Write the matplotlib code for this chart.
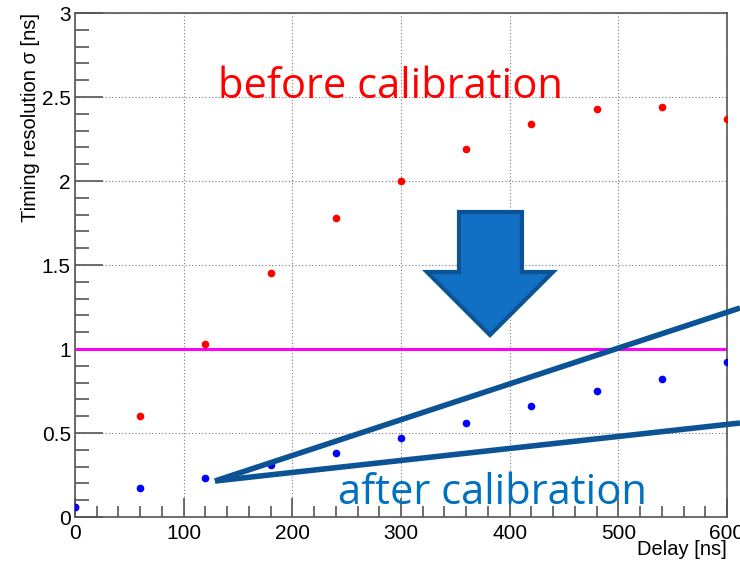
# -*- coding: utf-8 -*-
# timing resolution vs delay, before / after calibration
import numpy as np
import matplotlib
matplotlib.use('Agg')
from matplotlib import pyplot as plt
from matplotlib.patches import Polygon
from matplotlib.ticker import MultipleLocator, FormatStrFormatter

delay = [0, 60, 120, 180, 240, 300, 360, 420, 480, 540, 600]
before = [0.06, 0.60, 1.03, 1.45, 1.78, 2.00, 2.19, 2.34, 2.43, 2.44, 2.37]
after = [0.06, 0.17, 0.23, 0.31, 0.38, 0.47, 0.56, 0.66, 0.75, 0.82, 0.92]
limit = 1.0

plt.rcParams['font.family'] = ['Liberation Sans', 'DejaVu Sans']

fig = plt.figure(figsize=(7.4, 5.64), dpi=100)
ax = fig.add_axes([0.1014, 0.0833, 0.881, 0.8936])

ax.plot(delay, before, 'o', color='red', ms=4.5, zorder=3)
ax.plot(delay, after, 'o', color='blue', ms=4.5, zorder=3)
ax.plot([0, 600], [limit, limit], color='#ff00ff', lw=2.2, zorder=2)

ax.set_xlim(0, 600)
ax.set_ylim(0, 3)
ax.xaxis.set_major_locator(MultipleLocator(100))
ax.xaxis.set_minor_locator(MultipleLocator(20))
ax.yaxis.set_major_locator(MultipleLocator(0.5))
ax.yaxis.set_minor_locator(MultipleLocator(0.1))
ax.xaxis.set_major_formatter(FormatStrFormatter('%g'))
ax.yaxis.set_major_formatter(FormatStrFormatter('%g'))
ax.tick_params(which='both', direction='in', top=False, right=False,
               color='#555555', width=1.2, labelsize=15)
ax.tick_params(axis='x', which='major', length=14, pad=5)
ax.tick_params(axis='x', which='minor', length=8)
ax.tick_params(axis='y', which='major', length=20, pad=3)
ax.tick_params(axis='y', which='minor', length=10)
ax.grid(True, which='major', ls=(0, (1, 2)), color='#777777', lw=0.8)
for s in ax.spines.values():
    s.set_color('#555555')
    s.set_linewidth(1.2)

ax.set_xlabel('Delay [ns]', fontsize=14.5, ha='right')
ax.xaxis.set_label_coords(1.0, -0.046)
ax.set_ylabel('Timing resolution σ [ns]', fontsize=14.5, ha='right')
ax.yaxis.set_label_coords(-0.054, 1.0)

# annotations, in figure pixels
W, H = 740.0, 564.0
def fp(x, y):
    return (x / W, 1 - y / H)

fig.text(*fp(390, 87), 'before calibration', color='#ff0000', fontsize=30,
         family=['Open Sans', 'DejaVu Sans'], ha='center', va='center')
fig.text(*fp(492, 493), 'after calibration', color='#0070c0', fontsize=30,
         family=['Open Sans', 'DejaVu Sans'], ha='center', va='center')

for ex, ey in [(740, 308), (740, 423)]:
    fig.add_artist(plt.Line2D([215 / W, ex / W], [1 - 481 / H, 1 - ey / H],
                              color='#0b5394', lw=4, solid_capstyle='butt'))

arrow = [(459, 212), (522, 212), (522, 272), (553, 272), (490, 335),
         (427, 272), (459, 272)]
fig.add_artist(Polygon([fp(x, y) for x, y in arrow], closed=True,
                       transform=fig.transFigure, fc='#1170c4', ec='#0b5394',
                       lw=3, joinstyle='miter'))

fig.savefig('out.png', dpi=100)
